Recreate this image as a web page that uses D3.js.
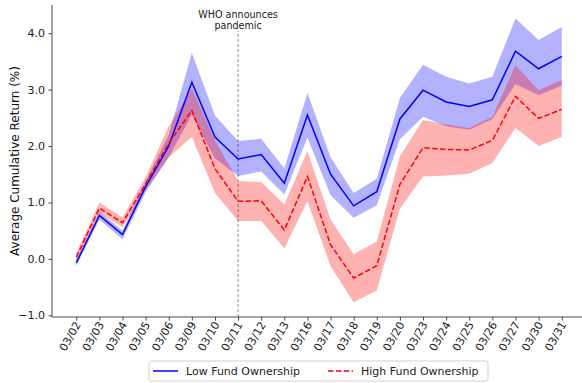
<!DOCTYPE html>
<html>
<head>
<meta charset="utf-8">
<script src="https://cdn.jsdelivr.net/npm/d3@7/dist/d3.min.js"></script>
<style>
  html, body { margin: 0; padding: 0; background: #fff; }
  svg { display: block; font-family: "DejaVu Sans", sans-serif; }
</style>
</head>
<body>
<svg id="chart" width="582" height="383"></svg>
<script>
// Trading days in March 2020
const dates = ["03/02","03/03","03/04","03/05","03/06","03/09","03/10","03/11","03/12","03/13","03/16",
               "03/17","03/18","03/19","03/20","03/23","03/24","03/25","03/26","03/27","03/30","03/31"];

// Low fund ownership: mean cumulative return and confidence band (%)
const lowMean  = [-0.07, 0.77, 0.43, 1.28, 2.00, 3.13, 2.16, 1.77, 1.85, 1.34, 2.55, 1.50, 0.94, 1.19, 2.48, 2.99, 2.78, 2.70, 2.82, 3.68, 3.37, 3.59];
const lowLower = [-0.12, 0.70, 0.35, 1.18, 1.80, 2.55, 1.78, 1.47, 1.55, 1.14, 2.15, 1.13, 0.73, 0.95, 2.12, 2.52, 2.35, 2.29, 2.48, 3.10, 2.90, 3.07];
const lowUpper = [-0.02, 0.84, 0.50, 1.38, 2.20, 3.65, 2.54, 2.09, 2.13, 1.60, 2.94, 1.80, 1.17, 1.42, 2.85, 3.44, 3.23, 3.11, 3.23, 4.26, 3.88, 4.11];

// High fund ownership: mean cumulative return and confidence band (%)
const highMean  = [0.03, 0.90, 0.64, 1.33, 2.05, 2.63, 1.60, 1.02, 1.03, 0.51, 1.46, 0.25, -0.34, -0.12, 1.32, 1.97, 1.94, 1.93, 2.10, 2.88, 2.49, 2.65];
const highLower = [-0.04, 0.82, 0.56, 1.22, 1.80, 2.16, 1.17, 0.67, 0.67, 0.19, 1.02, -0.13, -0.77, -0.56, 0.89, 1.46, 1.48, 1.51, 1.70, 2.32, 2.00, 2.16];
const highUpper = [0.10, 1.00, 0.74, 1.45, 2.35, 3.02, 2.10, 1.38, 1.36, 0.97, 1.91, 0.70, 0.08, 0.31, 1.82, 2.46, 2.38, 2.32, 2.52, 3.43, 2.99, 3.17];

const yTicks = [-1, 0, 1, 2, 3, 4];
const seriesNames = ["Low Fund Ownership", "High Fund Ownership"];
const eventDate = "03/11";
const eventLabel = ["WHO announces", "pandemic"];

const svg = d3.select("#chart");
const plot = { left: 52, right: 586, top: 5, bottom: 317 };

const x = d3.scalePoint().domain(dates).range([plot.left, plot.right]).padding(1.05);
const y = d3.scaleLinear().domain([-1.03, 4.50]).range([plot.bottom, plot.top]);

const clipId = "plot-clip";
svg.append("defs").append("clipPath").attr("id", clipId)
  .append("rect").attr("x", plot.left).attr("y", plot.top)
  .attr("width", plot.right - plot.left).attr("height", plot.bottom - plot.top);

const g = svg.append("g").attr("clip-path", `url(#${clipId})`);

const area = (lo, hi) => d3.area()
  .x((d, i) => x(dates[i]))
  .y0((d, i) => y(lo[i]))
  .y1((d, i) => y(hi[i]));
const line = vals => d3.line().x((d, i) => x(dates[i])).y((d, i) => y(vals[i]));

// Event marker
g.append("line")
  .attr("x1", x(eventDate)).attr("x2", x(eventDate))
  .attr("y1", y(-1.03)).attr("y2", y(4.04))
  .attr("stroke", "#999").attr("stroke-width", 1.1)
  .attr("stroke-dasharray", "3,2");

// Confidence bands
g.append("path").attr("d", area(lowLower, lowUpper)(dates))
  .attr("fill", "#0000ff").attr("fill-opacity", 0.3);
g.append("path").attr("d", area(highLower, highUpper)(dates))
  .attr("fill", "#ff0000").attr("fill-opacity", 0.3);

// Mean lines
g.append("path").attr("d", line(lowMean)(dates))
  .attr("fill", "none").attr("stroke", "#0000ff").attr("stroke-width", 1.5);
g.append("path").attr("d", line(highMean)(dates))
  .attr("fill", "none").attr("stroke", "#ff0000").attr("stroke-width", 1.5)
  .attr("stroke-dasharray", "5.5,2.4");

// Event label
const ann = svg.append("text")
  .attr("x", x(eventDate)).attr("y", 18)
  .attr("text-anchor", "middle").attr("font-size", 9.6).attr("fill", "#222");
ann.selectAll("tspan").data(eventLabel).join("tspan")
  .attr("x", x(eventDate)).attr("dy", (d, i) => i === 0 ? 0 : 10.5)
  .text(d => d);

// Y axis
const yAxis = svg.append("g").attr("transform", `translate(${plot.left},0)`)
  .call(d3.axisLeft(y).tickValues(yTicks).tickFormat(d3.format(".1f")).tickSize(3.5).tickPadding(3.5));
yAxis.select(".domain").attr("d", `M0,${plot.top}V${plot.bottom}`);

// X axis
const xAxis = svg.append("g").attr("transform", `translate(0,${plot.bottom})`)
  .call(d3.axisBottom(x).tickSize(3.5));
xAxis.select(".domain").attr("d", `M${plot.left},0H${plot.right}`);
xAxis.selectAll(".tick text")
  .attr("text-anchor", "end")
  .attr("dy", null).attr("y", null)
  .attr("transform", "translate(4.5,7.5) rotate(-60)");

[yAxis, xAxis].forEach(ax => {
  ax.attr("font-family", "DejaVu Sans, sans-serif").attr("font-size", 11);
  ax.selectAll(".domain").attr("stroke", "#333").attr("stroke-width", 0.9);
  ax.selectAll(".tick line").attr("stroke", "#333").attr("stroke-width", 0.9);
  ax.selectAll(".tick text").attr("fill", "#222");
});

// Y axis title
svg.append("text")
  .attr("transform", `translate(19,${(plot.top + plot.bottom) / 2}) rotate(-90)`)
  .attr("text-anchor", "middle").attr("font-size", 12).attr("fill", "#111")
  .text("Average Cumulative Return (%)");

// Legend
const legend = svg.append("g").attr("transform", "translate(149,361)");
legend.append("rect").attr("width", 339).attr("height", 20).attr("rx", 2.5)
  .attr("fill", "#fff").attr("fill-opacity", 0.8).attr("stroke", "#ccc").attr("stroke-width", 0.9);
const items = [
  { name: seriesNames[0], color: "#0000ff", dash: null, x0: 4 },
  { name: seriesNames[1], color: "#ff0000", dash: "5.5,2.4", x0: 179 }
];
items.forEach(it => {
  legend.append("line").attr("x1", it.x0).attr("x2", it.x0 + 25).attr("y1", 10).attr("y2", 10)
    .attr("stroke", it.color).attr("stroke-width", 1.5).attr("stroke-dasharray", it.dash);
  legend.append("text").attr("x", it.x0 + 33).attr("y", 14)
    .attr("font-size", 11).attr("fill", "#222").text(it.name);
});
</script>
</body>
</html>
